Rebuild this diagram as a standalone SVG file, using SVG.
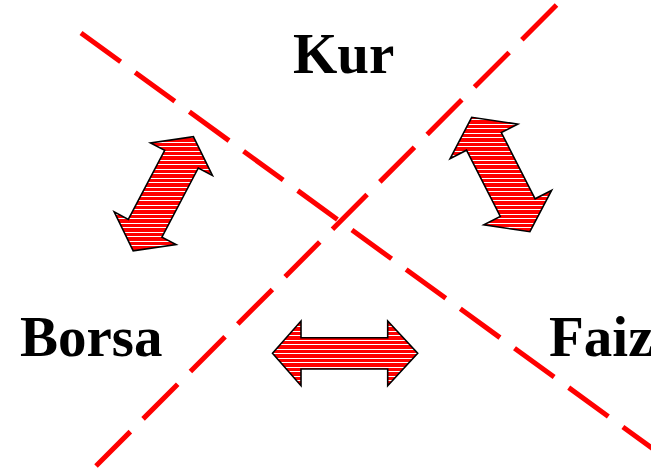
<svg xmlns="http://www.w3.org/2000/svg" width="651" height="469" viewBox="0 0 651 469">
  <defs>
    <pattern id="stripes" patternUnits="userSpaceOnUse" x="0" y="0" width="8" height="9">
      <rect x="0" y="0" width="8" height="9" fill="#FF0000"/>
      <rect x="0" y="2" width="8" height="1" fill="#FFFFFF"/>
      <rect x="0" y="7" width="8" height="1" fill="#FFFFFF"/>
    </pattern>
  </defs>
  <style>
    .divider { stroke: #FF0000; stroke-width: 5; stroke-dasharray: 49 18; fill: none; }
    .arrow { fill: url(#stripes); stroke: #000000; stroke-width: 1.6; stroke-linejoin: miter; }
    .label { font-family: "Liberation Serif", "Times New Roman", serif; font-weight: bold; font-size: 57px; fill: #000000; }
  </style>
  <rect x="0" y="0" width="651" height="469" fill="#FFFFFF"/>
  <g id="dividers">
    <line class="divider" x1="81" y1="33" x2="660" y2="454"/>
    <line class="divider" x1="556.5" y1="5" x2="96" y2="466"/>
  </g>
  <g id="connectors">
    <polygon id="arrow-kur-borsa" class="arrow" points="193.4,136.6 212.4,175.5 198.3,168.0 161.9,237.1 176.1,244.5 133.2,250.8 114.2,211.9 128.3,219.4 164.7,150.3 150.5,142.9"/>
    <polygon id="arrow-kur-faiz" class="arrow" points="529.9,231.7 551.6,190.4 535.1,198.8 501.3,132.5 517.8,124.1 471.7,117.3 450.1,158.6 466.5,150.2 500.3,216.5 483.8,224.9"/>
    <polygon id="arrow-borsa-faiz" class="arrow" points="272.5,353.3 301,321 301,337.7 387.7,337.7 387.7,321 417.7,353.3 387.7,385.7 387.7,369 301,369 301,385.7"/>
  </g>
  <g id="node-kur">
    <text class="label" x="293" y="73">Kur</text>
  </g>
  <g id="node-borsa">
    <text class="label" x="20" y="356">Borsa</text>
  </g>
  <g id="node-faiz">
    <text class="label" x="549" y="356">Faiz</text>
  </g>
</svg>
